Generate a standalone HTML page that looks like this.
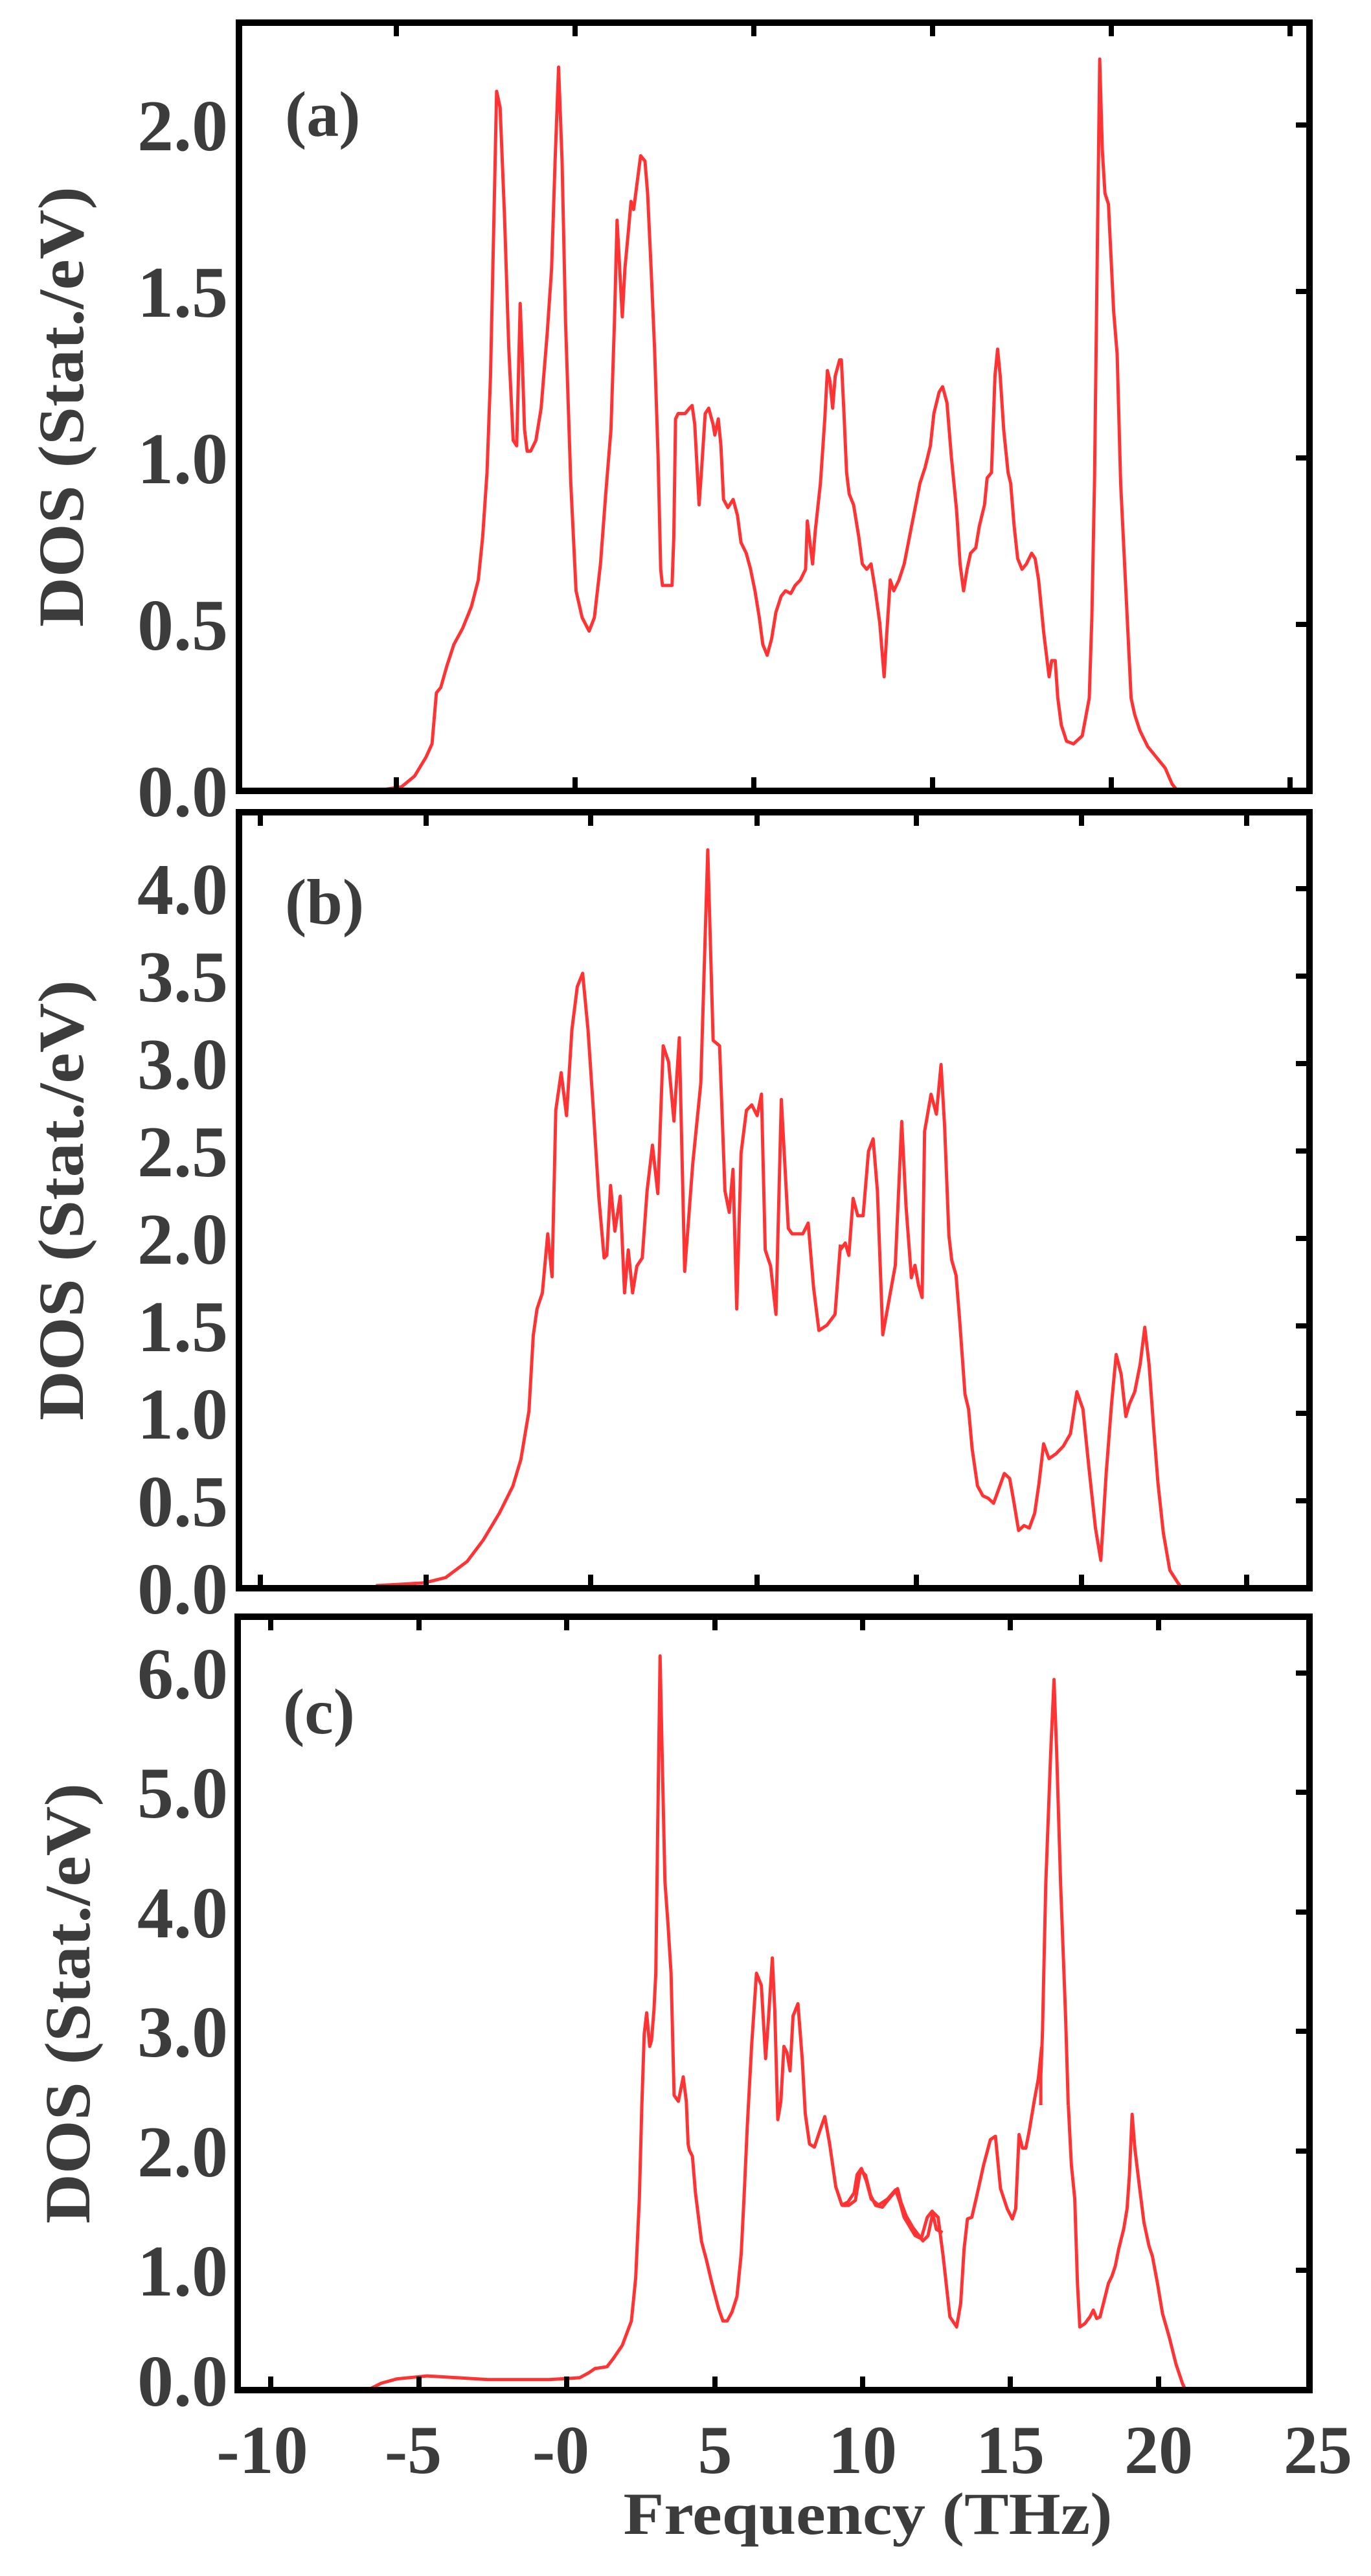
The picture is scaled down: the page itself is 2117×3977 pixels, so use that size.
<!DOCTYPE html>
<html><head><meta charset="utf-8"><style>
html,body{margin:0;padding:0;background:#fff}
svg{display:block}
text{font-family:"Liberation Serif",serif;font-weight:bold;fill:#3c3c3c}
</style></head><body>
<svg width="2117" height="3977" viewBox="0 0 2117 3977" xmlns="http://www.w3.org/2000/svg">
<rect width="2117" height="3977" fill="#fff"/>
<g fill="none" stroke="#ff3333" stroke-width="5" stroke-linejoin="round">
<path vector-effect="non-scaling-stroke" transform="scale(1.3477,0.8292)" d="M440,1470 L460,1465 475,1445 488,1410 495,1385 500,1290 505,1280 512,1240 520,1200 530,1170 540,1130 548,1080 553,1000 558,880 562,700 566,400 569,170 573,200 578,400 583,650 588,820 592,830 594,700 596,565 598,650 601,800 604,840 608,840 614,820 620,760 627,620 632,500 636,300 640,125 644,300 648,600 654,900 660,1100 667,1150 675,1175 681,1150 688,1050 694,920 700,800 704,600 707,410 710,500 713,590 716,500 720,430 723,375 726,390 730,340 734,290 739,300 742,360 746,500 750,650 754,850 757,1060 759,1090 770,1090 772,1000 774,780 777,770 785,770 790,760 793,755 796,790 799,880 801,940 804,870 808,770 812,760 817,790 819,810 823,780 826,830 829,930 834,945 840,930 845,960 849,1010 855,1030 860,1060 865,1100 870,1150 874,1200 879,1220 884,1190 889,1140 895,1110 900,1100 906,1105 911,1090 917,1080 923,1060 925,970 928,1010 931,1050 934,990 940,900 945,780 948,690 951,710 954,760 957,700 962,670 964,670 967,770 970,880 973,920 978,940 984,1000 988,1050 993,1060 998,1050 1003,1100 1008,1160 1013,1260 1016,1180 1020,1080 1024,1100 1030,1080 1036,1050 1042,1000 1048,950 1054,900 1060,870 1066,830 1070,770 1076,730 1080,720 1085,750 1090,850 1096,950 1100,1050 1104,1100 1108,1060 1112,1030 1118,1020 1122,980 1128,940 1131,890 1136,880 1140,700 1143,650 1146,700 1150,800 1155,880 1158,900 1162,980 1166,1040 1171,1060 1176,1050 1182,1030 1186,1040 1190,1080 1196,1180 1202,1260 1205,1230 1209,1230 1212,1300 1216,1350 1222,1380 1230,1385 1240,1370 1248,1300 1251,1150 1254,900 1257,500 1260,110 1263,280 1266,360 1270,380 1273,480 1276,580 1280,660 1284,900 1290,1100 1296,1300 1300,1330 1306,1360 1315,1390 1325,1410 1335,1430 1343,1460 1348,1470"/>
<path vector-effect="non-scaling-stroke" transform="translate(0,1200) scale(0.8292)" d="M700,1505 L790,1500 830,1490 870,1460 900,1420 930,1370 955,1320 970,1270 985,1180 993,1040 1000,990 1010,960 1020,850 1028,930 1035,620 1045,550 1055,630 1065,470 1075,390 1085,365 1095,470 1105,620 1115,780 1125,895 1130,890 1137,760 1145,845 1155,780 1163,960 1170,880 1178,960 1186,910 1196,895 1205,770 1215,685 1225,775 1235,500 1245,530 1255,640 1265,485 1275,920 1290,720 1305,570 1318,135 1328,490 1340,500 1350,770 1358,810 1365,730 1372,990 1380,700 1390,620 1400,610 1410,630 1418,590 1425,880 1435,910 1445,1000 1455,600 1468,840 1475,850 1495,850 1505,830 1515,950 1525,1030 1540,1020 1555,1000 1565,870"/>
<path vector-effect="non-scaling-stroke" transform="translate(1250,1280) scale(0.5519,0.7653)" d="M85,850 L100,835 110,860 122,745 135,780 150,780 165,650 178,625 190,730 205,1020 220,960 240,880 258,590 270,760 285,905 295,880 305,920 315,945 322,610 340,535 355,575 368,475 378,600 390,820 398,870 410,900 420,990 435,1140 445,1170 455,1250 470,1325 485,1345 500,1350 515,1360 530,1330 545,1300 560,1310 570,1350 585,1415 600,1405 615,1410 630,1380 642,1320 655,1240 670,1270 690,1260 710,1245 730,1220 748,1135 765,1170 782,1290 800,1410 815,1475 830,1300 845,1160 858,1060 872,1100 885,1185 895,1160 910,1135 925,1080 938,1005 950,1080 962,1200 975,1320 990,1420 1008,1495 1030,1520 1045,1535"/>
<path vector-effect="non-scaling-stroke" transform="translate(0,2500) scale(0.942)" d="M605,1262 L625,1252 650,1245 700,1240 750,1243 800,1246 900,1246 950,1243 965,1235 975,1228 995,1225 1005,1212 1020,1190 1035,1150 1042,1080 1048,950 1052,800 1056,680 1060,645 1065,700 1068,690 1072,640 1075,580 1078,350 1082,60 1086,250 1090,430 1095,500 1100,580 1105,780 1112,790 1120,750 1125,790 1128,860 1130,870 1135,880 1140,940 1145,980 1150,1020 1158,1050 1165,1080 1170,1100 1178,1130 1185,1150 1192,1150 1200,1135 1208,1110 1215,1040 1220,940 1225,830 1232,700 1240,580 1248,600 1255,720 1260,650 1266,555 1270,640 1275,820 1280,790 1285,700 1290,710 1295,740 1300,650 1308,630 1315,720 1320,810 1327,860 1335,865 1345,835 1352,815 1360,860 1370,930 1380,960 1390,955 1400,940 1405,910 1412,900 1420,920 1428,950 1440,960 1455,950 1468,935 1475,955 1482,980 1488,990 1500,1010 1510,1015 1520,980 1528,970 1535,1000 1545,1005"/>
<path vector-effect="non-scaling-stroke" transform="translate(1300,3160) scale(0.5211)" d="M0,470 L20,470 40,455 55,365 70,380 85,440 100,470 120,475 140,450 165,420 175,460 190,500 210,535 240,575 255,560 270,490 285,505 300,620 320,800 340,830 352,760 362,600 372,510 385,505 400,440 420,350 440,275 455,265 470,420 490,480 505,510 515,480 525,260 535,300 545,300 555,250 570,160 582,95 592,0"/>
<path vector-effect="non-scaling-stroke" transform="translate(1250,2450) scale(0.5102)" d="M700,1568 L700,1480 705,1350 715,900 730,500 740,280 748,500 760,900 775,1300 783,1568"/>
<path vector-effect="non-scaling-stroke" transform="translate(1300,3160) scale(0.5211)" d="M671,173 L680,350 690,450 698,700 705,830 720,820 735,800 745,780 755,805 765,800 780,740 790,700 800,680 810,650 820,600 835,540 845,480 852,380 860,200 868,300 880,400 895,520 910,590 920,620 935,700 950,790 970,860 990,940 1010,1000 1018,1015"/>
</g>
<g fill="none" stroke="#000" stroke-width="10">
<rect x="369" y="35" width="1653" height="1186"/>
<rect x="369" y="1254" width="1653" height="1198"/>
<rect x="367" y="2496" width="1655" height="1194"/>
</g>
<g stroke="#000" stroke-width="8">
<path d="M612,40v16M888,40v16M1164,40v16M1440,40v16M1716,40v16M1992,40v16M612,1216v-16M888,1216v-16M1164,1216v-16M1440,1216v-16M1716,1216v-16M1992,1216v-16"/>
<path d="M2017,1221h-16M2017,964h-16M2017,707h-16M2017,450h-16M2017,193h-16"/>
<path d="M402,1259v16M658,1259v16M912,1259v16M1169,1259v16M1415,1259v16M1670,1259v16M1925,1259v16M402,2447v-16M658,2447v-16M912,2447v-16M1169,2447v-16M1415,2447v-16M1670,2447v-16M1925,2447v-16"/>
<path d="M2017,2317h-16M2017,2182h-16M2017,2047h-16M2017,1912h-16M2017,1777h-16M2017,1642h-16M2017,1507h-16M2017,1372h-16"/>
<path d="M418,2501v16M647,2501v16M875,2501v16M1104,2501v16M1332,2501v16M1560,2501v16M1789,2501v16M418,3685v-16M647,3685v-16M875,3685v-16M1104,3685v-16M1332,3685v-16M1560,3685v-16M1789,3685v-16"/>
<path d="M2017,3505h-16M2017,3321h-16M2017,3136h-16M2017,2952h-16M2017,2767h-16M2017,2583h-16"/>
</g>
<g font-size="112" text-anchor="end">
<text x="352" y="1260">0.0</text>
<text x="352" y="1003">0.5</text>
<text x="352" y="746">1.0</text>
<text x="352" y="489">1.5</text>
<text x="352" y="232">2.0</text>

<text x="352" y="2491">0.0</text>
<text x="352" y="2356">0.5</text>
<text x="352" y="2221">1.0</text>
<text x="352" y="2086">1.5</text>
<text x="352" y="1951">2.0</text>
<text x="352" y="1816">2.5</text>
<text x="352" y="1681">3.0</text>
<text x="352" y="1546">3.5</text>
<text x="352" y="1411">4.0</text>

<text x="352" y="3714">0.0</text>
<text x="352" y="3544">1.0</text>
<text x="352" y="3360">2.0</text>
<text x="352" y="3175">3.0</text>
<text x="352" y="2991">4.0</text>
<text x="352" y="2806">5.0</text>
<text x="352" y="2622">6.0</text>
</g>
<g font-size="100">
<text x="440" y="210">(a)</text>
<text x="440" y="1426">(b)</text>
<text x="437" y="2676">(c)</text>
</g>
<g font-size="100" text-anchor="middle">
<text transform="translate(128,628) rotate(-90)" textLength="680" lengthAdjust="spacingAndGlyphs">DOS (Stat./eV)</text>
<text transform="translate(128,1853) rotate(-90)" textLength="680" lengthAdjust="spacingAndGlyphs">DOS (Stat./eV)</text>
<text transform="translate(138,3093) rotate(-90)" textLength="680" lengthAdjust="spacingAndGlyphs">DOS (Stat./eV)</text>
</g>
<g font-size="106" text-anchor="middle">
<text x="405" y="3818">-10</text>
<text x="638" y="3818">-5</text>
<text x="866" y="3818">-0</text>
<text x="1104" y="3818">5</text>
<text x="1332" y="3818">10</text>
<text x="1560" y="3818">15</text>
<text x="1789" y="3818">20</text>
<text x="2035" y="3818">25</text>
</g>
<text x="1340" y="3912" font-size="92" text-anchor="middle" textLength="755" lengthAdjust="spacingAndGlyphs">Frequency (THz)</text>
</svg>
</body></html>
